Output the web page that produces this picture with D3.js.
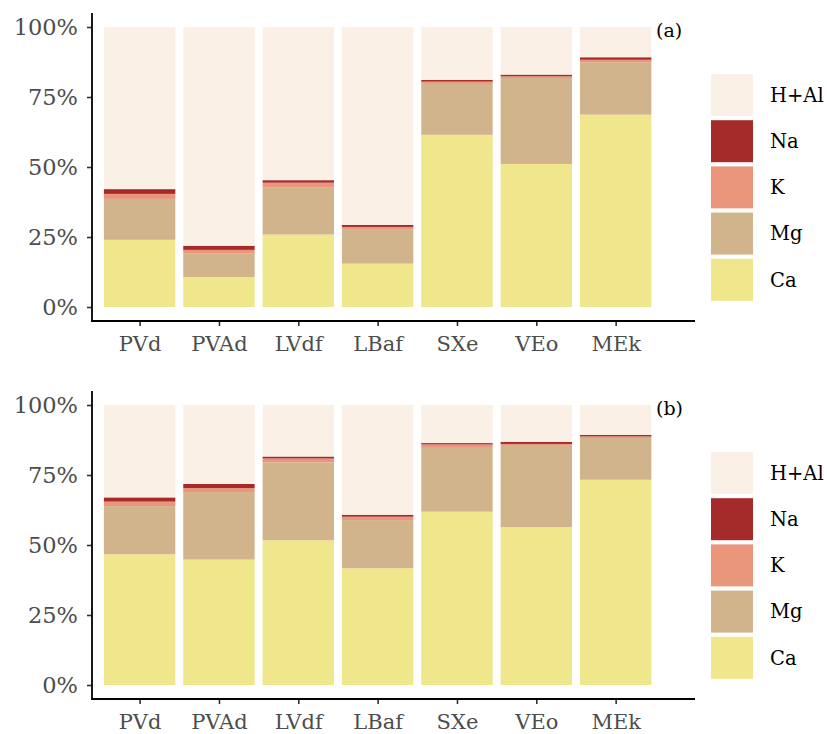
<!DOCTYPE html>
<html>
<head>
<meta charset="utf-8">
<script src="https://cdn.jsdelivr.net/npm/d3@7"></script>
<style>
  html, body { margin: 0; padding: 0; background: #ffffff; }
  svg { display: block; }
</style>
</head>
<body>
<div id="chart"></div>
<script>
// ---------- data ----------
const categories = ["PVd", "PVAd", "LVdf", "LBaf", "SXe", "VEo", "MEk"];
const seriesNames = ["Ca", "Mg", "K", "Na", "H+Al"];           // stacking order, bottom -> top
const legendOrder = ["H+Al", "Na", "K", "Mg", "Ca"];
const colors = ["#F0E68C", "#D2B48C", "#E9967A", "#A52A2A", "#FAF0E6"];
const yTicks = [0, 25, 50, 75, 100];
const panelLabels = ["(a)", "(b)"];

// panel (a) percentages
const caA = [24.0, 10.7, 25.9, 15.5, 61.5, 51.1, 68.7];
const mgA = [14.6, 8.5, 16.9, 12.3, 18.2, 30.7, 18.7];
const kA  = [1.8, 1.2, 1.6, 0.8, 0.8, 0.6, 0.9];
const naA = [1.7, 1.5, 0.9, 0.7, 0.6, 0.6, 0.9];
const hA  = [57.9, 78.1, 54.7, 70.7, 18.9, 17.0, 10.8];

// panel (b) percentages
const caB = [46.7, 44.8, 51.7, 41.7, 61.9, 56.4, 73.3];
const mgB = [17.2, 24.1, 27.8, 17.2, 22.8, 29.3, 14.9];
const kB  = [1.6, 1.4, 1.4, 1.2, 1.2, 0.4, 0.6];
const naB = [1.5, 1.5, 0.7, 0.7, 0.5, 0.7, 0.5];
const hB  = [33.0, 28.2, 18.4, 39.2, 13.6, 13.2, 10.7];

const panels = [
  { label: panelLabels[0], values: [caA, mgA, kA, naA, hA], top: 0 },
  { label: panelLabels[1], values: [caB, mgB, kB, naB, hB], top: 378 }
];

// ---------- layout ----------
const W = 827, H = 734;
const svg = d3.select("#chart").append("svg").attr("width", W).attr("height", H);

const color = d3.scaleOrdinal().domain(seriesNames).range(colors);
const x = d3.scaleLinear().domain([0.4, 8.0]).range([92, 695]);
const barW = (x(1.9) - x(1.0));
const serif = "'DejaVu Serif', 'Liberation Serif', serif";

panels.forEach(p => {
  const g = svg.append("g").attr("transform", `translate(0,${p.top})`);
  const y = d3.scaleLinear().domain([-5, 105]).range([321, 13]);

  const rows = categories.map((c, i) => {
    const r = { cat: c, idx: i + 1 };
    seriesNames.forEach((s, j) => r[s] = p.values[j][i]);
    return r;
  });
  const stacked = d3.stack().keys(seriesNames)(rows);

  g.selectAll("g.layer").data(stacked).join("g")
    .attr("class", "layer")
    .attr("fill", d => color(d.key))
    .selectAll("rect").data(d => d).join("rect")
    .attr("x", d => x(d.data.idx) - barW / 2)
    .attr("width", barW)
    .attr("y", d => y(d[1]))
    .attr("height", d => y(d[0]) - y(d[1]));

  // y axis
  const yAxis = d3.axisLeft(y).tickValues(yTicks).tickFormat(d => d + "%").tickSize(5).tickPadding(9);
  const ya = g.append("g").attr("transform", "translate(92,0)").call(yAxis);
  ya.select(".domain").remove();
  ya.selectAll(".tick line").attr("stroke", "#333").attr("stroke-width", 1.6);
  ya.selectAll(".tick text").attr("font-family", serif).attr("font-size", 22.5).attr("fill", "#4D4D4D");
  g.append("line").attr("x1", 92).attr("x2", 92).attr("y1", 13).attr("y2", 321.8)
    .attr("stroke", "#000").attr("stroke-width", 1.8);

  // x axis
  const xAxis = d3.axisBottom(x).tickValues(d3.range(1, categories.length + 1))
    .tickFormat(d => categories[d - 1]).tickSize(5).tickPadding(10);
  const xa = g.append("g").attr("transform", "translate(0,321)").call(xAxis);
  xa.select(".domain").remove();
  xa.selectAll(".tick line").attr("stroke", "#333").attr("stroke-width", 1.6);
  xa.selectAll(".tick text").attr("font-family", serif).attr("font-size", 21).attr("fill", "#4D4D4D");
  g.append("line").attr("x1", 91.1).attr("x2", 695).attr("y1", 321).attr("y2", 321)
    .attr("stroke", "#000").attr("stroke-width", 1.8);

  // panel label
  g.append("text").attr("x", 656).attr("y", 37).text(p.label)
    .attr("font-family", serif).attr("font-size", 19).attr("fill", "#000");

  // legend
  const lg = g.append("g").attr("transform", "translate(711,74)");
  legendOrder.forEach((s, i) => {
    lg.append("rect").attr("x", 0).attr("y", i * 46.2).attr("width", 42).attr("height", 42)
      .attr("fill", color(s));
    lg.append("text").attr("x", 59).attr("y", i * 46.2 + 21).attr("dy", "0.35em")
      .text(s).attr("font-family", serif).attr("font-size", 19.5).attr("fill", "#000");
  });
});
</script>
</body>
</html>
